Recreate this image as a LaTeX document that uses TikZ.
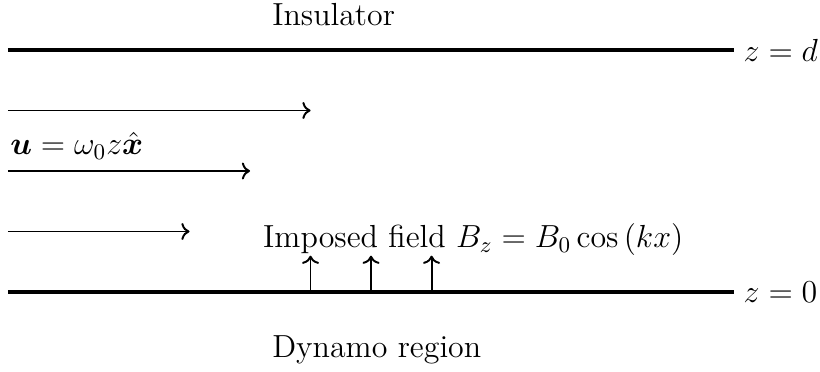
\RequirePackage{fix-cm}
\documentclass[tikz,border=0pt]{standalone}
\usepackage{amsmath,amssymb,bm}
\usetikzlibrary{arrows.meta}
\tikzset{boundary/.style={line width=1.3pt},flow/.style={->,thick},
 field/.style={->,thick},every node/.style={font=\fontsize{13.2pt}{16pt}\selectfont}}
\begin{document}
\begin{tikzpicture}[x=0.879cm,y=0.879cm]
\useasboundingbox (-0.132,-1.306) rectangle (13.42,4.826);
% plates
\coordinate (bl) at (0,0);
\coordinate (tl) at (0,4);
\draw[boundary] (bl) -- (12,0) node[right] (zzero) {$z=0$};
\draw[boundary] (tl) -- (12,4) node[right] (zd) {$z=d$};
\node[anchor=base west,inner sep=0pt] (ins) at (4.36,4.41) {Insulator};
\node[anchor=base west,inner sep=0pt] (dyn) at (4.36,-1.09) {Dynamo region};
% shear flow
\foreach \k in {1,2,3} {
\coordinate (u\k) at (0,\k);
\draw[flow] (u\k) -- ++(\k+2,0);
}
\node[anchor=base west,inner sep=0pt] (ulab) at (0.03,2.27) {$\bm{u}=\omega_0 z\hat{\bm{x}}$};
% imposed field
\node[anchor=base west,inner sep=0pt] (blab) at (4.21,0.73) {Imposed field $B_z=B_0\cos{(kx)}$};
\foreach \x in {5,6,7} {
\coordinate (b\x) at (\x,0);
\draw[field] (b\x) -- ++(0,0.6);
}
\end{tikzpicture}
\end{document}
